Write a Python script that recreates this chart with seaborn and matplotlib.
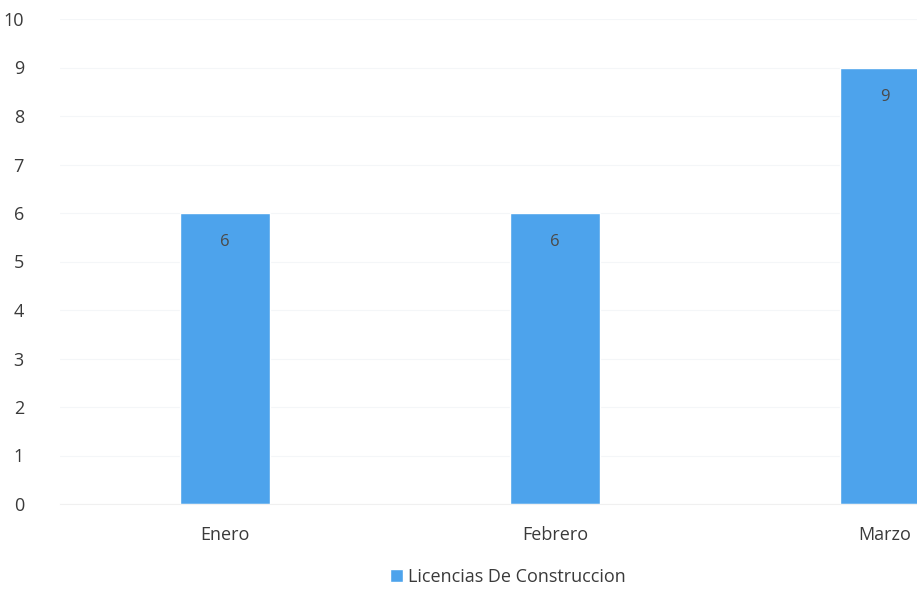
import matplotlib.pyplot as plt
import seaborn as sns
import pandas as pd

meses = ["Enero", "Febrero", "Marzo"]
licencias = [6, 6, 9]
serie = "Licencias De Construccion"
y_ticks = [0, 1, 2, 3, 4, 5, 6, 7, 8, 9, 10]

df = pd.DataFrame({"mes": meses, "licencias": licencias})

sns.set_style("white")
plt.rcParams["font.family"] = ["Open Sans", "DejaVu Sans"]

fig = plt.figure(figsize=(9.17, 5.93), dpi=100)
# plot area runs past the right edge, as in the scanned original
ax = fig.add_axes([60 / 917, 89 / 593, 990 / 917, 485 / 593])

sns.barplot(
    x = "mes",
    y = "licencias",
    data = df,
    color = "#4DA3EC",
    width = 0.273,
    saturation = 1,
    label = serie,
    ax = ax
)

for i, v in enumerate(licencias):
    ax.text(i, v - 0.6, str(v), ha="center", va="center", fontsize=12, color="#4a4a4a")

ax.set_ylim(0, 10)
ax.set_xlim(-0.5, 2.5)
ax.set_yticks(y_ticks)
ax.yaxis.grid(True, color="#f4f6f8", linewidth=0.8)
ax.set_axisbelow(True)
ax.tick_params(axis="y", labelsize=13, colors="#3a3a3a", length=0, pad=26)
ax.tick_params(axis="x", labelsize=13, colors="#3a3a3a", length=0, pad=16)
ax.set_xlabel("")
ax.set_ylabel("")
for s in ["top", "right", "left"]:
    ax.spines[s].set_visible(False)
ax.spines["bottom"].set_color("#f0f0f0")

ax.legend(
    loc="center",
    bbox_to_anchor=(508 / 917, 1 - 577 / 593),
    bbox_transform=fig.transFigure,
    frameon=False,
    fontsize=13,
    handlelength=0.7,
    handleheight=0.7,
    handletextpad=0.3,
    labelcolor="#3a3a3a"
)

fig.savefig("out.png", dpi=100)
